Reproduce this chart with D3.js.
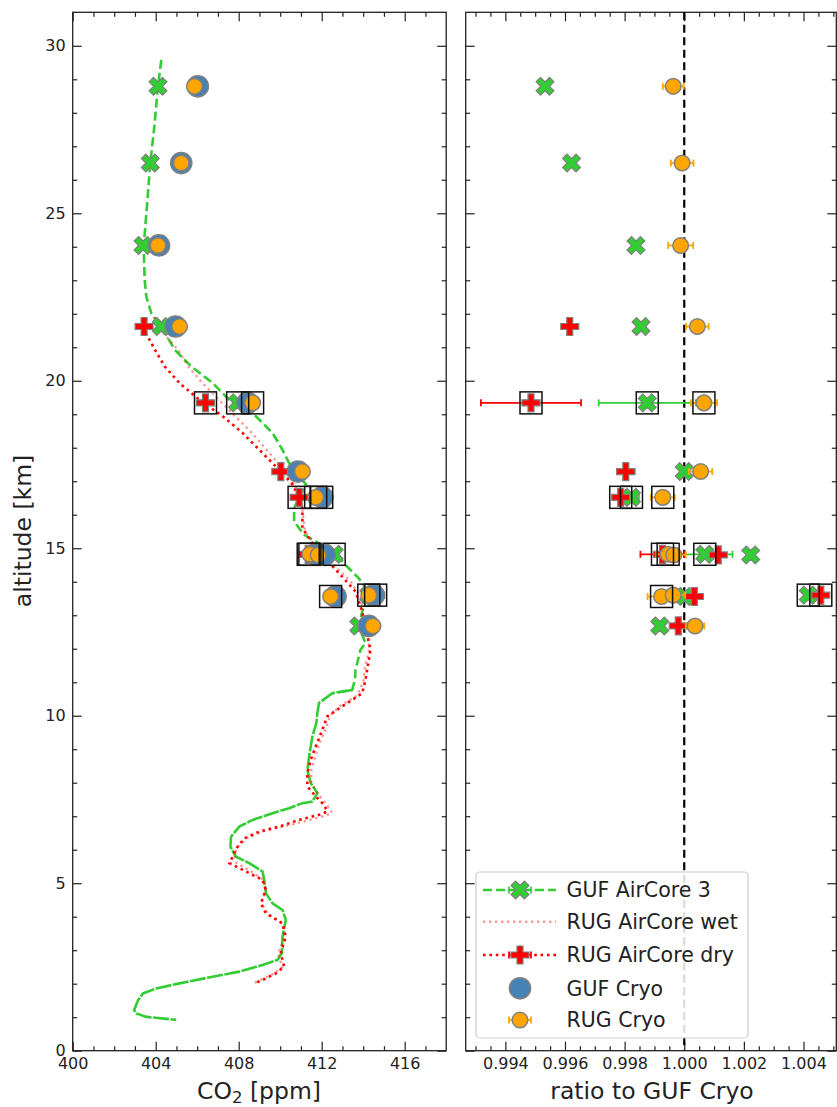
<!DOCTYPE html>
<html>
<head>
<meta charset="utf-8">
<script src="https://cdn.jsdelivr.net/npm/d3@7"></script>
<style>
  body { margin: 0; background: #fff; }
  svg { display: block; font-family: "DejaVu Sans", sans-serif; }
</style>
</head>
<body>
<div id="chart"></div>
<script>
// profiles: [altitude km, CO2 ppm]
const gufAirCoreProfile = [
  [29.58, 404.27], [28.79, 404.11], [27.5, 403.92], [26.5, 403.74], [25.0, 403.55], [24.0, 403.42],
  [23.0, 403.47], [22.5, 403.55], [22.0, 403.8], [21.62, 404.27], [20.93, 404.91], [20.43, 405.71],
  [19.93, 406.75], [19.32, 407.71], [18.94, 408.83], [18.44, 409.63], [17.94, 410.11], [17.44, 410.51],
  [16.9, 411.25], [16.2, 410.67], [15.8, 410.67], [15.4, 411.15], [14.9, 412.59], [14.5, 413.15],
  [14.1, 413.79], [13.86, 414.08], [13.51, 414.19], [13.11, 413.95], [12.66, 413.79], [12.17, 414.11],
  [11.97, 413.87], [11.37, 413.63], [11.07, 413.6], [10.77, 413.47], [10.67, 412.51], [10.38, 411.87],
  [10.08, 411.79], [9.78, 411.74], [9.38, 411.55], [8.78, 411.39], [8.38, 411.31], [7.99, 411.47],
  [7.69, 411.79], [7.44, 411.55], [7.39, 411.07], [7.24, 410.43], [7.09, 409.63], [6.89, 408.67],
  [6.69, 408.03], [6.39, 407.63], [6.09, 407.6], [5.79, 407.87], [5.6, 408.51], [5.35, 409.15],
  [5.1, 409.23], [4.7, 409.31], [4.4, 409.63], [4.2, 410.11], [3.9, 410.27], [3.4, 410.11],
  [2.91, 410.08], [2.71, 409.87], [2.56, 409.15], [2.36, 408.03], [2.21, 406.75], [2.01, 405.15],
  [1.86, 404.03], [1.71, 403.39], [1.51, 403.15], [1.21, 402.96], [1.11, 403.07], [1.01, 403.55],
  [0.92, 404.99]
];
const rugWetProfile = [
  [21.9, 403.9], [21.4, 404.4], [20.9, 405.1], [20.4, 405.6], [19.9, 406.3], [19.4, 407.1],
  [18.9, 407.9], [18.4, 408.7], [17.9, 409.4], [17.4, 410.1], [17.0, 410.6], [16.5, 411.0],
  [16.0, 411.1], [15.5, 411.2], [15.0, 411.8], [14.5, 412.6], [14.0, 413.4], [13.5, 413.9],
  [13.0, 414.0], [12.5, 414.2], [12.0, 414.3], [11.5, 414.1], [11.0, 414.0], [10.6, 413.7],
  [10.3, 412.9], [10.0, 412.4], [9.6, 412.2], [9.2, 411.9], [8.8, 411.7], [8.4, 411.5],
  [8.0, 411.5], [7.6, 411.9], [7.3, 412.3], [7.1, 412.5], [7.0, 412.1], [6.85, 411.2],
  [6.7, 410.2], [6.55, 409.2], [6.35, 408.4], [6.05, 407.9], [5.8, 407.8], [5.6, 407.9],
  [5.35, 408.6], [5.1, 409.2], [4.8, 409.3], [4.4, 409.1], [4.1, 409.4], [3.8, 410.1],
  [3.4, 410.2], [2.9, 409.9], [2.5, 410.1], [2.3, 409.7], [2.1, 409.0], [2.0, 408.7]
];
const rugDryProfile = [
  [21.62, 403.44], [21.4, 403.55], [20.93, 403.96], [20.43, 404.43], [19.93, 405.15], [19.43, 406.11],
  [18.94, 407.23], [18.44, 408.19], [17.94, 408.99], [17.44, 409.79], [17.29, 410.03], [16.9, 410.6],
  [16.5, 410.91], [16.2, 411.07], [15.6, 411.07], [15.0, 411.71], [14.31, 412.75], [13.71, 413.63],
  [13.11, 413.95], [12.42, 414.19], [11.97, 414.35], [11.37, 414.19], [11.07, 414.11], [10.67, 413.95],
  [10.28, 412.99], [9.98, 412.27], [9.58, 412.03], [9.08, 411.71], [8.68, 411.47], [8.29, 411.31],
  [7.89, 411.31], [7.59, 411.71], [7.34, 412.11], [7.14, 412.27], [7.04, 411.87], [6.89, 410.91],
  [6.69, 409.95], [6.54, 408.99], [6.34, 408.27], [6.03, 407.87], [5.79, 407.71], [5.6, 407.55],
  [5.35, 408.35], [5.1, 409.15], [4.8, 409.31], [4.4, 409.07], [4.1, 409.31], [3.8, 410.11],
  [3.4, 410.27], [2.91, 410.03], [2.51, 410.19], [2.31, 409.79], [2.11, 409.15], [2.01, 408.75]
];

// cryo sample altitudes (km)
const sampleAlt = [28.79, 26.5, 24.04, 21.62, 19.34, 17.29, 16.52, 14.82, 14.8, 13.56, 13.6, 12.68];
// CO2 (ppm) at the samples
const gufCryo = [406.03, 405.23, 404.16, 404.96, 408.43, 410.86, 412.03, 411.7, 412.15, 412.67, 414.51, 414.27];
const rugCryo = [405.87, 405.23, 404.11, 405.15, 408.67, 411.07, 411.71, 411.43, 411.83, 412.43, 414.27, 414.47];
const gufAirCore = [404.11, 403.74, 403.39, 404.27, 407.95, 410.8, 412.0, 412.6, 412.05, 412.6, 414.27, 413.79];
const rugAirCoreDry = [null, null, null, 403.44, 406.4, 410.03, 410.91, 411.35, 412.1, 412.6, 414.6, 414.24];
// ratios to GUF Cryo and their uncertainties
const ratioGufAirCore = [0.99533, 0.99622, 0.99838, 0.99855, 0.99876, 1.0, 0.99823, 1.00069, 1.00223, 1.00002, 1.00416, 0.99918];
const errGufAirCore = [0.0001, 0.0001, 0.0001, 0.0001, 0.00163, 0.0001, 0.00025, 0.00093, 0.0001, 0.0001, 0.0001, 0.0001];
const ratioRugDry = [null, null, null, 0.99616, 0.99486, 0.99804, 0.99787, 0.99927, 1.00114, 1.00034, 1.00458, 0.9998];
const errRugDry = [null, null, null, 0.0001, 0.00168, 0.00029, 0.00027, 0.00074, 0.0001, 0.0001, 0.0001, 0.0001];
const ratioRugCryo = [0.99963, 0.99993, 0.99988, 1.00044, 1.00066, 1.00055, 0.99928, 0.99946, 0.99965, 0.99924, 0.99963, 1.00036];
const errRugCryo = [0.00035, 0.00038, 0.00042, 0.00038, 0.00044, 0.00039, 0.0004, 0.0004, 0.0004, 0.00047, 0.0004, 0.00031];
// samples boxed as flagged
const flagGufAirCore = [0, 0, 0, 0, 1, 0, 1, 1, 0, 0, 1, 0];
const flagRugDry = [0, 0, 0, 0, 1, 0, 1, 1, 0, 0, 1, 0];
const flagRugCryo = [0, 0, 0, 0, 1, 0, 1, 1, 0, 1, 0, 0];

const legendLabels = ["GUF AirCore 3", "RUG AirCore wet", "RUG AirCore dry", "GUF Cryo", "RUG Cryo"];

const width = 837, height = 1107;
const GREEN = "#32CD32", RED = "#FF0000", BLUE = "#4682B4", ORANGE = "#FFA500", EDGE = "#808080", INK = "#222";

const svg = d3.select("#chart").append("svg").attr("width", width).attr("height", height);

const y = d3.scaleLinear().domain([0, 31]).range([1050.7, 12.3]);
const xL = d3.scaleLinear().domain([400, 418]).range([72.7, 446.2]);
const xR = d3.scaleLinear().domain([0.99267, 1.0051]).range([465.7, 836.3]);

const crossP = d3.symbol().type(d3.symbolCross).size(180);
const crossX = d3.symbol().type(d3.symbolCross).size(200);

function styleAxis(g) {
  g.select(".domain").remove();
  g.selectAll("line").attr("stroke", INK).attr("stroke-width", 1.2);
  g.selectAll("text").attr("fill", INK).attr("font-size", 16).attr("font-family", "DejaVu Sans");
}

function drawFrame(x, xMajor, xMinor, xFmt, yLabels) {
  const [x0, x1] = x.range(), [y0, y1] = y.range();
  const yMajor = d3.range(0, 31, 5), yMinor = d3.range(0, 31).filter(v => v % 5 !== 0);
  svg.append("g").attr("transform", `translate(0,${y0})`)
    .call(d3.axisBottom(x).tickValues(xMajor).tickSize(-9).tickPadding(7).tickFormat(xFmt)).call(styleAxis);
  svg.append("g").attr("transform", `translate(0,${y0})`)
    .call(d3.axisBottom(x).tickValues(xMinor).tickSize(-4.5).tickFormat("")).call(styleAxis);
  svg.append("g").attr("transform", `translate(0,${y1})`)
    .call(d3.axisTop(x).tickValues(xMajor).tickSize(-9).tickFormat("")).call(styleAxis);
  svg.append("g").attr("transform", `translate(0,${y1})`)
    .call(d3.axisTop(x).tickValues(xMinor).tickSize(-4.5).tickFormat("")).call(styleAxis);
  svg.append("g").attr("transform", `translate(${x0},0)`)
    .call(d3.axisLeft(y).tickValues(yMajor).tickSize(-9).tickPadding(7).tickFormat(yLabels ? d3.format("d") : "")).call(styleAxis);
  svg.append("g").attr("transform", `translate(${x0},0)`)
    .call(d3.axisLeft(y).tickValues(yMinor).tickSize(-4.5).tickFormat("")).call(styleAxis);
  svg.append("g").attr("transform", `translate(${x1},0)`)
    .call(d3.axisRight(y).tickValues(yMajor).tickSize(-9).tickFormat("")).call(styleAxis);
  svg.append("g").attr("transform", `translate(${x1},0)`)
    .call(d3.axisRight(y).tickValues(yMinor).tickSize(-4.5).tickFormat("")).call(styleAxis);
  svg.append("rect").attr("x", x0).attr("y", y1).attr("width", x1 - x0).attr("height", y0 - y1)
    .attr("fill", "none").attr("stroke", INK).attr("stroke-width", 1.3);
}

function rows(values) {
  return values.map((v, i) => ({ v, alt: sampleAlt[i], i })).filter(d => d.v !== null);
}

function drawX(g, data, x) {
  g.selectAll(null).data(data).join("path")
    .attr("d", crossX())
    .attr("transform", d => `translate(${x(d.v)},${y(d.alt)}) rotate(45)`)
    .attr("fill", GREEN).attr("stroke", EDGE).attr("stroke-width", 1.2);
}
function drawP(g, data, x) {
  g.selectAll(null).data(data).join("path")
    .attr("d", crossP())
    .attr("transform", d => `translate(${x(d.v)},${y(d.alt)})`)
    .attr("fill", RED).attr("stroke", EDGE).attr("stroke-width", 1.2);
}
function drawDots(g, data, x, r, fill) {
  g.selectAll(null).data(data).join("circle")
    .attr("cx", d => x(d.v)).attr("cy", d => y(d.alt)).attr("r", r)
    .attr("fill", fill).attr("stroke", EDGE).attr("stroke-width", 1.5);
}
function drawBoxes(g, data, x, flags) {
  g.selectAll(null).data(data.filter(d => flags[d.i])).join("rect")
    .attr("x", d => x(d.v) - 11).attr("y", d => y(d.alt) - 11)
    .attr("width", 22).attr("height", 22)
    .attr("fill", "none").attr("stroke", "#111").attr("stroke-width", 1.5);
}
function drawErr(g, data, errs, x, color) {
  const e = g.selectAll(null).data(data).join("g");
  e.append("line")
    .attr("x1", d => x(d.v - errs[d.i])).attr("x2", d => x(d.v + errs[d.i]))
    .attr("y1", d => y(d.alt)).attr("y2", d => y(d.alt))
    .attr("stroke", color).attr("stroke-width", 1.8);
  [-1, 1].forEach(s => {
    e.append("line")
      .attr("x1", d => x(d.v + s * errs[d.i])).attr("x2", d => x(d.v + s * errs[d.i]))
      .attr("y1", d => y(d.alt) - 3.5).attr("y2", d => y(d.alt) + 3.5)
      .attr("stroke", color).attr("stroke-width", 1.8);
  });
}

// ---------- left panel: CO2 profiles ----------
drawFrame(xL, d3.range(400, 417, 4), d3.range(401, 418).filter(v => v % 4 !== 0), d3.format("d"), true);

const line = d3.line().x(d => xL(d[1])).y(d => y(d[0]));
const left = svg.append("g");
// the dense low-altitude record reads as an almost unbroken line
left.append("path").datum(gufAirCoreProfile.filter(d => d[0] >= 10.6)).attr("d", line)
  .attr("fill", "none").attr("stroke", GREEN).attr("stroke-width", 2.6).attr("stroke-dasharray", "9,4");
left.append("path").datum(gufAirCoreProfile.filter(d => d[0] <= 10.8)).attr("d", line)
  .attr("fill", "none").attr("stroke", GREEN).attr("stroke-width", 2.6).attr("stroke-dasharray", "16,1.5");
left.append("path").datum(rugWetProfile).attr("d", line)
  .attr("fill", "none").attr("stroke", RED).attr("stroke-opacity", 0.4).attr("stroke-width", 2.4).attr("stroke-dasharray", "2.4,3.6");
left.append("path").datum(rugDryProfile).attr("d", line)
  .attr("fill", "none").attr("stroke", RED).attr("stroke-width", 2.6).attr("stroke-dasharray", "2.6,3.8");

drawX(left, rows(gufAirCore), xL);
drawP(left, rows(rugAirCoreDry), xL);
drawDots(left, rows(gufCryo), xL, 10.6, BLUE);
drawDots(left, rows(rugCryo), xL, 7.8, ORANGE);
drawBoxes(left, rows(gufAirCore), xL, flagGufAirCore);
drawBoxes(left, rows(rugAirCoreDry), xL, flagRugDry);
drawBoxes(left, rows(rugCryo), xL, flagRugCryo);

// ---------- right panel: ratios ----------
const majorR = d3.range(1988, 2009, 4).map(k => k * 0.0005);
const minorR = d3.range(1986, 2011).filter(k => k % 4 !== 0).map(k => k * 0.0005);
drawFrame(xR, majorR, minorR, d3.format(".3f"), false);

const right = svg.append("g");
right.append("line")
  .attr("x1", xR(1)).attr("x2", xR(1)).attr("y1", y.range()[1]).attr("y2", y.range()[0])
  .attr("stroke", "#000").attr("stroke-width", 2.2).attr("stroke-dasharray", "8,4.5");

drawErr(right, rows(ratioGufAirCore), errGufAirCore, xR, GREEN);
drawX(right, rows(ratioGufAirCore), xR);
drawErr(right, rows(ratioRugDry), errRugDry, xR, RED);
drawP(right, rows(ratioRugDry), xR);
drawErr(right, rows(ratioRugCryo), errRugCryo, xR, ORANGE);
drawDots(right, rows(ratioRugCryo), xR, 7.8, ORANGE);
drawBoxes(right, rows(ratioGufAirCore), xR, flagGufAirCore);
drawBoxes(right, rows(ratioRugDry), xR, flagRugDry);
drawBoxes(right, rows(ratioRugCryo), xR, flagRugCryo);

// ---------- legend ----------
const lg = svg.append("g");
lg.append("rect").attr("x", 476).attr("y", 872).attr("width", 272).attr("height", 166).attr("rx", 4)
  .attr("fill", "#fff").attr("fill-opacity", 0.85).attr("stroke", "#cccccc").attr("stroke-width", 1.2);
const ly = [890, 921.7, 955, 988.3, 1020];
const hx0 = 483, hx1 = 556, hm = 520;
function capBar(yy, color) {
  lg.append("line").attr("x1", hm - 11).attr("x2", hm + 11).attr("y1", yy).attr("y2", yy).attr("stroke", color).attr("stroke-width", 1.8);
  [-11, 11].forEach(dx => lg.append("line").attr("x1", hm + dx).attr("x2", hm + dx)
    .attr("y1", yy - 3.5).attr("y2", yy + 3.5).attr("stroke", color).attr("stroke-width", 1.8));
}
lg.append("line").attr("x1", hx0).attr("x2", hx1).attr("y1", ly[0]).attr("y2", ly[0])
  .attr("stroke", GREEN).attr("stroke-width", 2.6).attr("stroke-dasharray", "9,4");
capBar(ly[0], GREEN);
lg.append("path").attr("d", crossX()).attr("transform", `translate(${hm},${ly[0]}) rotate(45)`)
  .attr("fill", GREEN).attr("stroke", EDGE).attr("stroke-width", 1.2);
lg.append("line").attr("x1", hx0).attr("x2", hx1).attr("y1", ly[1]).attr("y2", ly[1])
  .attr("stroke", RED).attr("stroke-opacity", 0.4).attr("stroke-width", 2.4).attr("stroke-dasharray", "2.4,3.6");
lg.append("line").attr("x1", hx0).attr("x2", hx1).attr("y1", ly[2]).attr("y2", ly[2])
  .attr("stroke", RED).attr("stroke-width", 2.6).attr("stroke-dasharray", "2.6,3.8");
capBar(ly[2], RED);
lg.append("path").attr("d", crossP()).attr("transform", `translate(${hm},${ly[2]})`)
  .attr("fill", RED).attr("stroke", EDGE).attr("stroke-width", 1.2);
lg.append("circle").attr("cx", hm).attr("cy", ly[3]).attr("r", 10.6)
  .attr("fill", BLUE).attr("stroke", EDGE).attr("stroke-width", 1.5);
capBar(ly[4], ORANGE);
lg.append("circle").attr("cx", hm).attr("cy", ly[4]).attr("r", 7.8)
  .attr("fill", ORANGE).attr("stroke", EDGE).attr("stroke-width", 1.5);
lg.selectAll(null).data(legendLabels).join("text")
  .attr("x", 566.5).attr("y", (d, i) => ly[i]).attr("dy", "0.36em")
  .attr("font-size", 20.5).attr("fill", INK).text(d => d);

// ---------- axis titles ----------
svg.append("text").attr("transform", "translate(31,531) rotate(-90)")
  .attr("text-anchor", "middle").attr("font-size", 23.5).attr("fill", INK).text("altitude [km]");
const co2 = svg.append("text").attr("x", 259).attr("y", 1099)
  .attr("text-anchor", "middle").attr("font-size", 23.5).attr("fill", INK);
co2.append("tspan").text("CO");
co2.append("tspan").attr("font-size", 16.5).attr("dy", 4).text("2");
co2.append("tspan").attr("dy", -4).text(" [ppm]");
svg.append("text").attr("x", 652).attr("y", 1099)
  .attr("text-anchor", "middle").attr("font-size", 23.5).attr("fill", INK).text("ratio to GUF Cryo");
</script>
</body>
</html>
